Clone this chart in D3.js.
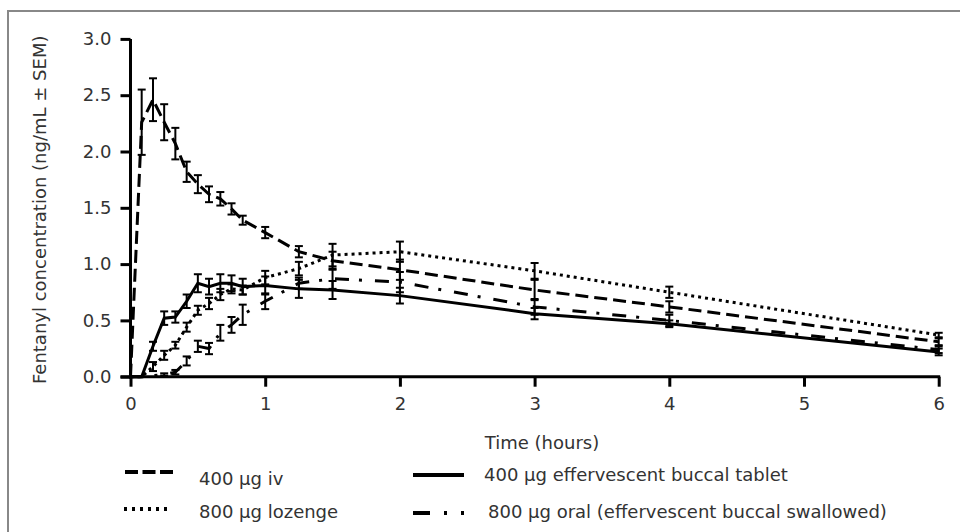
<!DOCTYPE html>
<html>
<head>
<meta charset="utf-8">
<script src="https://cdn.jsdelivr.net/npm/d3@7"></script>
<style>
  body { margin: 0; background: #fff; }
  svg text { font-family: "DejaVu Sans", Verdana, sans-serif; fill: #333; }
</style>
</head>
<body>
<div id="chart"></div>
<script>
// sampling times (hours)
const times = [0, 0.083, 0.167, 0.25, 0.333, 0.417, 0.5, 0.583, 0.667, 0.75, 0.833, 1, 1.25, 1.5, 2, 3, 4, 6];

// 400 ug iv
const ivMean = [0, 2.26, 2.46, 2.26, 2.07, 1.82, 1.71, 1.62, 1.58, 1.49, 1.39, 1.28, 1.11, 1.03, 0.95, 0.77, 0.62, 0.31];
const ivSem  = [0, 0.29, 0.19, 0.16, 0.14, 0.09, 0.08, 0.07, 0.06, 0.05, 0.04, 0.05, 0.05, 0.08, 0.09, 0.09, 0.05, 0.03];
// 400 ug effervescent buccal tablet
const buccalMean = [0, 0, 0.27, 0.52, 0.53, 0.67, 0.83, 0.80, 0.83, 0.83, 0.80, 0.81, 0.78, 0.77, 0.72, 0.56, 0.47, 0.22];
const buccalSem  = [0, 0, 0.04, 0.06, 0.05, 0.06, 0.08, 0.07, 0.08, 0.07, 0.07, 0.08, 0.08, 0.08, 0.07, 0.05, 0.03, 0.03];
// 800 ug lozenge
const lozengeMean = [0, 0, 0.09, 0.19, 0.28, 0.44, 0.59, 0.65, 0.73, 0.78, 0.77, 0.88, 0.96, 1.08, 1.11, 0.94, 0.75, 0.37];
const lozengeSem  = [0, 0, 0.04, 0.04, 0.03, 0.04, 0.04, 0.05, 0.05, 0.04, 0.04, 0.06, 0.06, 0.1, 0.09, 0.07, 0.05, 0.02];
// 800 ug oral (effervescent buccal swallowed)
const oralMean = [0, 0, 0.01, 0.02, 0.04, 0.14, 0.27, 0.25, 0.39, 0.46, 0.55, 0.67, 0.83, 0.87, 0.84, 0.62, 0.50, 0.24];
const oralSem  = [0, 0, 0, 0.01, 0.02, 0.04, 0.05, 0.05, 0.07, 0.07, 0.09, 0.07, 0.05, 0.09, 0.09, 0.07, 0.05, 0.03];

const yTicks = [0, 0.5, 1.0, 1.5, 2.0, 2.5, 3.0];
const xTicks = [0, 1, 2, 3, 4, 5, 6];

const series = [
  { name: "400 \u03bcg iv", mean: ivMean, sem: ivSem, dash: "13,6" },
  { name: "800 \u03bcg lozenge", mean: lozengeMean, sem: lozengeSem, dash: "3,4" },
  { name: "400 \u03bcg effervescent buccal tablet", mean: buccalMean, sem: buccalSem, dash: null },
  { name: "800 \u03bcg oral (effervescent buccal swallowed)", mean: oralMean, sem: oralSem, dash: "14,10,3,13" }
];

const width = 960, height = 532;
const fs = 18;
const svg = d3.select("#chart").append("svg")
  .attr("width", width).attr("height", height);

// grey frame (right/bottom sides run off the picture)
svg.append("rect")
  .attr("x", 8).attr("y", 11).attr("width", 980).attr("height", 560)
  .attr("fill", "none").attr("stroke", "#888").attr("stroke-width", 2);

const x = d3.scaleLinear().domain([0, 6]).range([130.5, 938.7]);
const y = d3.scaleLinear().domain([0, 3]).range([376.7, 38.9]);

// y axis
const yAxis = svg.append("g")
  .attr("transform", `translate(${x(0)},0)`)
  .call(d3.axisLeft(y).tickValues(yTicks).tickFormat(d3.format(".1f")).tickSize(10).tickPadding(9));
yAxis.select(".domain").remove();
yAxis.selectAll(".tick line").attr("stroke", "#000").attr("stroke-width", 3);
yAxis.selectAll(".tick text").attr("font-size", fs).attr("fill", "#333");

// x axis
const xAxis = svg.append("g")
  .attr("transform", `translate(0,${y(0)})`)
  .call(d3.axisBottom(x).tickValues(xTicks).tickFormat(d3.format("d")).tickSize(10).tickPadding(11));
xAxis.select(".domain").remove();
xAxis.selectAll(".tick line").attr("stroke", "#000").attr("stroke-width", 3);
xAxis.selectAll(".tick text").attr("font-size", fs).attr("fill", "#333");

svg.append("line")
  .attr("x1", x(0)).attr("x2", x(0)).attr("y1", y(3)).attr("y2", y(0) + 2)
  .attr("stroke", "#000").attr("stroke-width", 3);
svg.append("line")
  .attr("x1", x(0) - 10).attr("x2", x(6) + 1.5).attr("y1", y(0)).attr("y2", y(0))
  .attr("stroke", "#000").attr("stroke-width", 3);

// axis titles
svg.append("text")
  .attr("transform", `translate(46,${(y(3) + y(0)) / 2 + 2}) rotate(-90)`)
  .attr("text-anchor", "middle").attr("font-size", fs)
  .text("Fentanyl concentration (ng/mL \u00b1 SEM)");
svg.append("text")
  .attr("x", 542).attr("y", 449).attr("text-anchor", "middle").attr("font-size", fs)
  .text("Time (hours)");

const line = d3.line().x((d, i) => x(times[i])).y(d => y(d));

series.forEach(s => {
  // error bars
  const g = svg.append("g");
  s.mean.forEach((m, i) => {
    const e = s.sem[i];
    if (!e) return;
    const cx = x(times[i]);
    g.append("line").attr("x1", cx).attr("x2", cx).attr("y1", y(m - e)).attr("y2", y(m + e))
      .attr("stroke", "#000").attr("stroke-width", 2);
    [m - e, m + e].forEach(v => {
      g.append("line").attr("x1", cx - 4).attr("x2", cx + 4).attr("y1", y(v)).attr("y2", y(v))
        .attr("stroke", "#000").attr("stroke-width", 2);
    });
  });
  svg.append("path")
    .datum(s.mean)
    .attr("d", line)
    .attr("fill", "none").attr("stroke", "#000").attr("stroke-width", 3)
    .attr("stroke-dasharray", s.dash);
});

// legend
const legendItems = [
  { s: series[0], x1: 125, x2: 173, ly: 472, tx: 199, ty: 485 },
  { s: series[1], x1: 124, x2: 172, ly: 509, tx: 199, ty: 518 },
  { s: series[2], x1: 413, x2: 464, ly: 475, tx: 484, ty: 481 },
  { s: series[3], x1: 413, x2: 466, ly: 513, tx: 488, ty: 518 }
];
const legendDash = ["13,4.5", "3,5", null, "17,14,3,14,3,50"];
legendItems.forEach((it, i) => {
  svg.append("line")
    .attr("x1", it.x1).attr("x2", it.x2).attr("y1", it.ly).attr("y2", it.ly)
    .attr("stroke", "#000").attr("stroke-width", 4)
    .attr("stroke-dasharray", legendDash[i]);
  svg.append("text")
    .attr("x", it.tx).attr("y", it.ty).attr("font-size", fs)
    .text(it.s.name);
});
</script>
</body>
</html>
